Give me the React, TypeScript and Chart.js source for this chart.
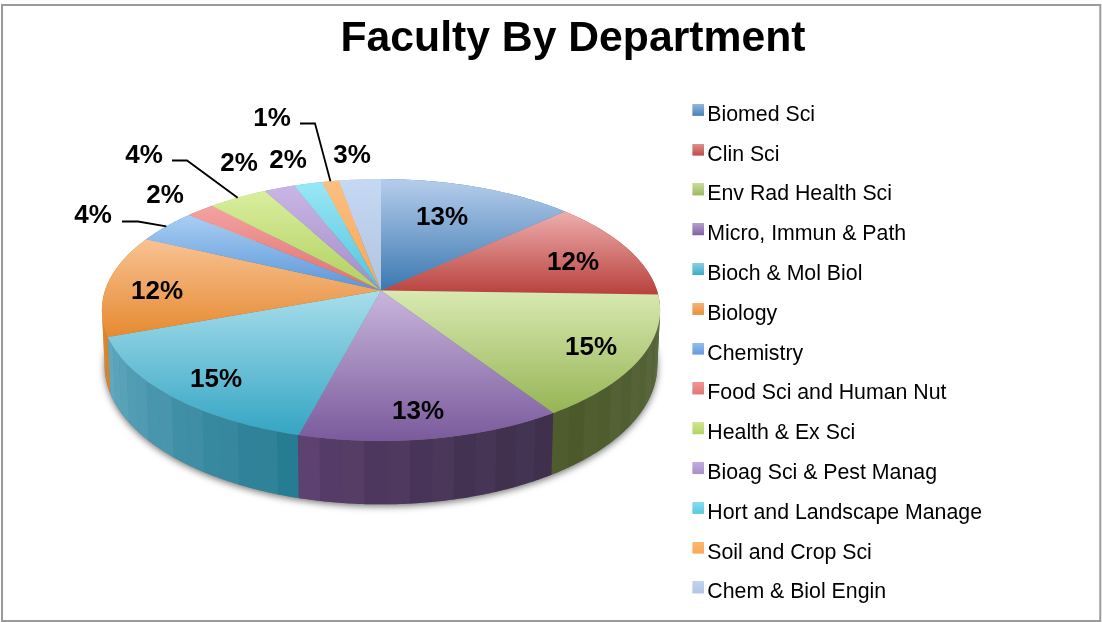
import React, { useEffect, useRef } from "react";
import { Chart, registerables } from "chart.js";

Chart.register(...registerables);

const CATEGORIES = [
  "Biomed Sci", "Clin Sci", "Env Rad Health Sci", "Micro, Immun & Path", "Bioch & Mol Biol",
  "Biology", "Chemistry", "Food Sci and Human Nut", "Health & Ex Sci", "Bioag Sci & Pest Manag",
  "Hort and Landscape Manage", "Soil and Crop Sci", "Chem & Biol Engin",
];
const SHARES = [13.1, 12.4, 15.3, 13.3, 15.3, 12.6, 4.2, 1.9, 4.0, 2.06, 1.9, 1.13, 2.8];
const PERCENT_LABELS = ["13%", "12%", "15%", "13%", "15%", "12%", "4%", "2%", "4%", "2%", "2%", "1%", "3%"];

const TOP_LIGHT = ["#b6cdec", "#eeaeae", "#d9e9b2", "#c9b6dd", "#a8deeb", "#f8c294", "#aacef3", "#f4a2a2", "#d9ee9e", "#c9b6e5", "#9ae7f6", "#fcbe84", "#c6d9f3"];
const TOP_DARK = ["#3a78b0", "#b8413c", "#96b555", "#7a5a9c", "#34a5c4", "#e68a30", "#5a96d8", "#e07070", "#b0d060", "#a48cc8", "#50c4dc", "#f8a850", "#b0c4e0"];
const WALL_START = ["#3a78b0", "#b8413c", "#586a40", "#40304e", "#247a90", "#d9822a", "#5a96d8", "#e07070", "#b0d060", "#a48cc8", "#50c4dc", "#f8a850", "#b0c4e0"];
const WALL_END = ["#3a78b0", "#b8413c", "#4a5828", "#5c3e70", "#5fa8c0", "#e8963a", "#5a96d8", "#e07070", "#b0d060", "#a48cc8", "#50c4dc", "#f8a850", "#b0c4e0"];

// Label centres relative to the pie hub
const LABEL_OFFSETS: [number, number][] = [
  [61, -73], [192, -28], [210, 57], [37, 121], [-165, 89], [-224, 1],
  [-288, -75], [-216, -95], [-237, -135], [-142, -127], [-93, -130], [-109, -172], [-29, -135],
];
// Leader lines: slice index, label-side start and elbow, relative to the hub
const LEADERS: { index: number; from: [number, number]; elbow: [number, number] }[] = [
  { index: 6, from: [-259, -69], elbow: [-243, -69] },
  { index: 8, from: [-209, -130], elbow: [-194, -130] },
  { index: 11, from: [-81, -167], elbow: [-66, -167] },
];

const HUB = { x: 381, y: 290.5 };
const RADIUS = 276;
const Y_SCALE = 128;
const PERSPECTIVE = 0.149;
const DEPTH = 54;
const BASE_SHRINK = 0.99;

const top = (t: number): [number, number] => {
  const w = 1 - PERSPECTIVE * Math.sin(t);
  return [HUB.x + (RADIUS * Math.cos(t)) / w, HUB.y + (Y_SCALE * Math.sin(t)) / w];
};
const base = (t: number): [number, number] => {
  const w = 1 - PERSPECTIVE * Math.sin(t);
  return [HUB.x + (BASE_SHRINK * RADIUS * Math.cos(t)) / w, HUB.y + (Y_SCALE * Math.sin(t) + DEPTH) / w];
};

const hex = (c: string) => [1, 3, 5].map((i) => parseInt(c.slice(i, i + 2), 16));
const mix = (a: string, b: string, f: number) => {
  const A = hex(a), B = hex(b);
  return `rgb(${A.map((v, i) => Math.round(v + (B[i] - v) * f)).join(",")})`;
};
const angleSamples = (a: number, b: number, step = Math.PI / 180) => {
  const out: number[] = [];
  for (let t = a; t < b; t += step) out.push(t);
  out.push(b);
  return out;
};

const swatch = (i: number) => {
  const c = document.createElement("canvas");
  c.width = 16;
  c.height = 22;
  const g = c.getContext("2d")!;
  const grad = g.createLinearGradient(0, 0, 0, 12);
  grad.addColorStop(0, mix(TOP_LIGHT[i], TOP_DARK[i], 0.25));
  grad.addColorStop(1, mix(TOP_LIGHT[i], TOP_DARK[i], 0.9));
  g.fillStyle = grad;
  g.fillRect(4, 0, 12, 12);
  return c;
};

const pie3d = {
  id: "pie3d",
  beforeDatasetsDraw(chart: any) {
    const ctx: CanvasRenderingContext2D = chart.ctx;
    const arcs = chart.getDatasetMeta(0).data;
    ctx.save();

    // Soft shadow below the disc
    ctx.save();
    ctx.shadowColor = "rgba(0,0,0,0.55)";
    ctx.shadowBlur = 7;
    ctx.shadowOffsetY = 2;
    ctx.shadowOffsetX = 0;
    ctx.fillStyle = "#777";
    ctx.beginPath();
    angleSamples(0, Math.PI * 2).forEach((t) => ctx.lineTo(...base(t)));
    ctx.closePath();
    ctx.fill();
    ctx.restore();

    // Outer wall, back to front
    const strips: { t0: number; t1: number; i: number; f: number; n: number }[] = [];
    arcs.forEach((a: any, i: number) => {
      const step = (4 * Math.PI) / 180;
      const n = Math.max(1, Math.ceil((a.endAngle - a.startAngle) / step));
      for (let k = 0; k < n; k++) {
        const d = (a.endAngle - a.startAngle) / n;
        strips.push({ t0: a.startAngle + k * d, t1: a.startAngle + (k + 1) * d + 0.003, i, f: (k + 0.5) / n, n: k });
      }
    });
    strips.sort((p, q) => Math.sin(p.t0) - Math.sin(q.t0));
    strips.forEach((s) => {
      ctx.fillStyle = mix(WALL_START[s.i], WALL_END[s.i], s.i === 3 ? s.f * s.f : s.f);
      ctx.beginPath();
      angleSamples(s.t0, s.t1, 0.01).forEach((t) => ctx.lineTo(...top(t)));
      angleSamples(s.t0, s.t1, 0.01).reverse().forEach((t) => ctx.lineTo(...base(t)));
      ctx.closePath();
      ctx.fill();
      if (s.n % 2) {
        ctx.fillStyle = "rgba(255,255,255,0.025)";
        ctx.fill();
      }
    });

    // Top face, each slice with its own vertical gradient
    arcs.forEach((a: any, i: number) => {
      const pts = angleSamples(a.startAngle, a.endAngle).map(top);
      const ys = pts.map((p) => p[1]).concat(HUB.y);
      const grad = ctx.createLinearGradient(0, Math.min(...ys), 0, Math.max(...ys));
      grad.addColorStop(0, TOP_LIGHT[i]);
      grad.addColorStop(1, TOP_DARK[i]);
      ctx.fillStyle = grad;
      ctx.beginPath();
      ctx.moveTo(HUB.x, HUB.y);
      pts.forEach((p) => ctx.lineTo(p[0], p[1]));
      ctx.closePath();
      ctx.fill();
    });

    // Leader lines
    ctx.strokeStyle = "#000";
    ctx.lineWidth = 1.8;
    LEADERS.forEach(({ index, from, elbow }) => {
      const a = arcs[index];
      const end = top((a.startAngle + a.endAngle) / 2);
      ctx.beginPath();
      ctx.moveTo(HUB.x + from[0], HUB.y + from[1]);
      ctx.lineTo(HUB.x + elbow[0], HUB.y + elbow[1]);
      ctx.lineTo(end[0], end[1]);
      ctx.stroke();
    });

    // Percentage labels
    ctx.fillStyle = "#000";
    ctx.font = "bold 26px 'Liberation Sans'";
    ctx.textAlign = "center";
    ctx.textBaseline = "middle";
    PERCENT_LABELS.forEach((txt, i) => {
      ctx.fillText(txt, HUB.x + LABEL_OFFSETS[i][0], HUB.y + LABEL_OFFSETS[i][1]);
    });

    ctx.restore();
    return false;
  },
  afterDraw(chart: any) {
    const ctx: CanvasRenderingContext2D = chart.ctx;
    ctx.save();
    ctx.strokeStyle = "#9a9a9a";
    ctx.lineWidth = 2;
    ctx.strokeRect(2, 5, 1098.3, 616);
    ctx.restore();
  },
};

export default function App() {
  const ref = useRef<HTMLCanvasElement>(null);
  useEffect(() => {
    document.body.style.margin = "0";
    const swatches = CATEGORIES.map((_, i) => swatch(i));
    const chart = new Chart(ref.current!, {
      type: "pie",
      data: {
        labels: CATEGORIES,
        datasets: [{ data: SHARES, backgroundColor: TOP_DARK, borderWidth: 0 }],
      },
      plugins: [pie3d],
      options: {
        animation: false,
        responsive: false,
        layout: { padding: { left: 154, right: 110, top: 0, bottom: 0 } },
        plugins: {
          tooltip: { enabled: false },
          title: {
            display: true,
            text: "Faculty By Department",
            color: "#000",
            font: { family: "'Liberation Sans'", size: 42.7, weight: "bold", lineHeight: 1.2 },
            padding: { top: 14, bottom: 20 },
          },
          legend: {
            display: true,
            position: "right",
            fullSize: false,
            labels: {
              color: "#000",
              font: { family: "'Liberation Sans'", size: 21.3 },
              boxWidth: 0.7,
              boxHeight: 12,
              usePointStyle: true,
              padding: 18.5,
              generateLabels: () =>
                CATEGORIES.map((text, i) => ({
                  text,
                  pointStyle: swatches[i],
                  fillStyle: TOP_DARK[i],
                  strokeStyle: "transparent",
                  lineWidth: 0,
                  hidden: false,
                  index: i,
                })),
            },
          },
        },
      },
    } as any);
    return () => chart.destroy();
  }, []);
  return <canvas ref={ref} width={1102} height={622} style={{ display: "block", background: "#fff" }} />;
}
